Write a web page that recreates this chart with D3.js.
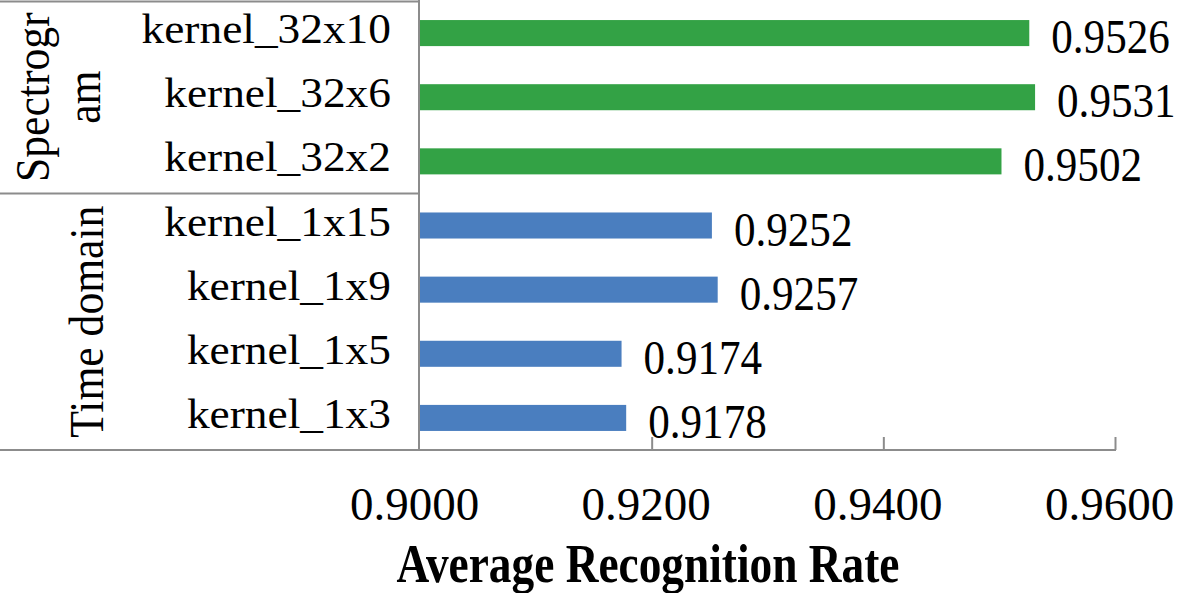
<!DOCTYPE html>
<html>
<head>
<meta charset="utf-8">
<script src="https://cdn.jsdelivr.net/npm/d3@7"></script>
<style>
  html, body { margin: 0; padding: 0; background: #fff; }
  svg { display: block; }
</style>
</head>
<body>
<svg id="chart" width="1181" height="593"></svg>
<script>
// ---- data ----
const categories = ["kernel_32x10", "kernel_32x6", "kernel_32x2", "kernel_1x15", "kernel_1x9", "kernel_1x5", "kernel_1x3"];
const values = [0.9526, 0.9531, 0.9502, 0.9252, 0.9257, 0.9174, 0.9178];
const groups = ["Spectrogram", "Spectrogram", "Spectrogram", "Time domain", "Time domain", "Time domain", "Time domain"];
const groupLabels = [
  { name: "Spectrogram", lines: ["Spectrogr", "am"] },
  { name: "Time domain", lines: ["Time domain"] }
];
const tickValues = [0.90, 0.92, 0.94, 0.96];
const xTitle = "Average Recognition Rate";

// ---- styles ----
const FONT = "Liberation Serif";
const colors = { "Spectrogram": "#33a245", "Time domain": "#4a7ebf" };
const lineColor = "#8c8c8c";

const svg = d3.select("#chart");
const plotLeft = 420, axisY = 450;

const x = d3.scaleLinear().domain([0.90, 0.96]).range([plotLeft, 1115]);
const y = d3.scaleBand().domain(categories).range([1, axisY]).paddingInner(0.594).paddingOuter(0.297);

function stretch(sel, factor) {
  sel.each(function() {
    const len = this.getComputedTextLength();
    d3.select(this).attr("textLength", len * factor).attr("lengthAdjust", "spacingAndGlyphs");
  });
}

// bars
svg.append("g").selectAll("rect").data(categories).join("rect")
  .attr("x", x(0.90))
  .attr("y", d => y(d))
  .attr("width", (d, i) => x(values[i]) - x(0.90))
  .attr("height", y.bandwidth())
  .attr("fill", (d, i) => colors[groups[i]]);

// value labels
const vl = svg.append("g").selectAll("text").data(categories).join("text")
  .attr("x", (d, i) => x(values[i]) + 22)
  .attr("y", d => y(d) + y.bandwidth() / 2 + 20)
  .attr("font-family", FONT)
  .attr("font-size", 49)
  .text((d, i) => values[i].toFixed(4));
stretch(vl, 0.88);

// category labels
const cl = svg.append("g").selectAll("text").data(categories).join("text")
  .attr("x", 391)
  .attr("y", d => y(d) + y.bandwidth() / 2 + 10)
  .attr("text-anchor", "end")
  .attr("font-family", FONT)
  .attr("font-size", 42)
  .text(d => d);
stretch(cl, 1.08);

// x axis (ticks pointing up)
const xAxis = d3.axisBottom(x).tickValues(tickValues).tickSize(-13).tickFormat(d3.format(".4f"));
const ax = svg.append("g").attr("transform", `translate(0,${axisY})`).call(xAxis);
ax.select(".domain").remove();
ax.selectAll(".tick line").attr("stroke", lineColor).attr("stroke-width", 2);
ax.selectAll(".tick").filter(d => d === 0.90).select("line").remove();
ax.selectAll(".tick text")
  .attr("y", 70).attr("dy", 0).attr("x", -6)
  .attr("font-size", 47)
  .attr("font-family", FONT)
  .attr("fill", "#000");

// frame lines
const lines = svg.append("g").attr("stroke", lineColor).attr("stroke-width", 2).attr("fill", "none");
lines.append("line").attr("x1", 0).attr("x2", x(0.96) + 1).attr("y1", axisY).attr("y2", axisY);
lines.append("line").attr("x1", plotLeft - 1).attr("x2", plotLeft - 1).attr("y1", 0).attr("y2", axisY);
lines.append("line").attr("x1", 0).attr("x2", plotLeft - 1).attr("y1", 1.5).attr("y2", 1.5);
const sepY = (y(categories[2]) + y.bandwidth() + y(categories[3])) / 2;
lines.append("line").attr("x1", 0).attr("x2", plotLeft - 1).attr("y1", sepY).attr("y2", sepY);

// group labels (rotated)
const gTop = [1, sepY], gBot = [sepY, axisY];
const gPos = [[49, 100], [103]];
groupLabels.forEach((g, gi) => {
  const cy = (gTop[gi] + gBot[gi]) / 2;
  g.lines.forEach((ln, li) => {
    const t = svg.append("text")
      .attr("transform", `translate(${gPos[gi][li]},${cy}) rotate(-90)`)
      .attr("text-anchor", "middle")
      .attr("font-family", FONT)
      .attr("font-size", 49)
      .text(ln);
    stretch(t, 0.89);
  });
});

// axis title
const tt = svg.append("text")
  .attr("x", 648).attr("y", 582)
  .attr("text-anchor", "middle")
  .attr("font-family", FONT)
  .attr("font-size", 54)
  .attr("font-weight", "bold")
  .text(xTitle);
stretch(tt, 0.84);
</script>
</body>
</html>
